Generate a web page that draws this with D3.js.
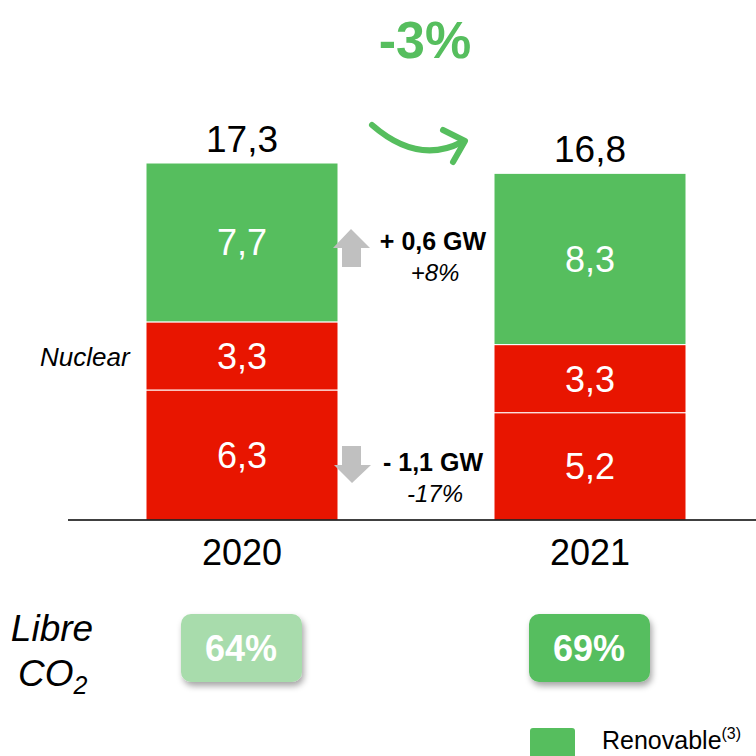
<!DOCTYPE html>
<html>
<head>
<meta charset="utf-8">
<script src="https://cdn.jsdelivr.net/npm/d3@7"></script>
<style>
  body { margin: 0; background: #fff; }
  svg { font-family: "Liberation Sans", Arial, sans-serif; }
</style>
</head>
<body>
<script>
const years = ["2020", "2021"];
const series = ["fossil", "nuclear", "renewable"];
const fossil = [6.3, 5.2];
const nuclear = [3.3, 3.3];
const renewable = [7.7, 8.3];
const totals = ["17,3", "16,8"];
const co2Free = ["64%", "69%"];
const change = "-3%";

const width = 756;
const height = 756;

const svg = d3.select("body")
    .append("svg")
    .attr("width", width)
    .attr("height", height);

const defs = svg.append("defs");
const shadow = defs.append("filter")
    .attr("id", "shadow")
    .attr("x", "-20%").attr("y", "-20%")
    .attr("width", "150%").attr("height", "160%");
shadow.append("feDropShadow")
    .attr("dx", 2).attr("dy", 4)
    .attr("stdDeviation", 3)
    .attr("flood-color", "#000")
    .attr("flood-opacity", 0.35);

const green = "#56be5e";
const red = "#e81500";
const colour = d3.scaleOrdinal()
    .domain(series)
    .range([red, red, green]);

// bars 192 px wide, 348 px apart
const x = d3.scaleBand()
    .domain(years)
    .range([146, 686])
    .paddingInner(156 / 348);

// 17.3 -> 357 px above baseline
const y = d3.scaleLinear()
    .domain([0, 17.3])
    .range([520, 163]);

const table = years.map((yr, i) => ({
    year: yr, fossil: fossil[i], nuclear: nuclear[i], renewable: renewable[i]
}));
const stacked = d3.stack().keys(series)(table);

const fmt = v => String(v).replace(".", ",");
const cx = d => x(d) + x.bandwidth() / 2;

const bars = svg.append("g");
stacked.forEach(layer => {
    const g = bars.append("g").attr("fill", colour(layer.key));
    g.selectAll("rect")
        .data(layer)
        .join("rect")
        .attr("x", d => x(d.data.year))
        .attr("width", x.bandwidth())
        .attr("y", d => y(d[1]))
        .attr("height", d => y(d[0]) - y(d[1]))
        .attr("stroke", "#fff")
        .attr("stroke-width", 1);
    g.selectAll("text")
        .data(layer)
        .join("text")
        .attr("x", d => cx(d.data.year))
        .attr("y", d => (y(d[0]) + y(d[1])) / 2 + 13)
        .attr("text-anchor", "middle")
        .attr("fill", "#fff")
        .attr("font-size", 36)
        .text(d => fmt(d.data[layer.key]));
});

// totals
svg.append("g")
    .selectAll("text")
    .data(stacked[2])
    .join("text")
    .attr("x", d => cx(d.data.year))
    .attr("y", d => y(d[1]) - 11)
    .attr("text-anchor", "middle")
    .attr("font-size", 37)
    .attr("fill", "#000")
    .text((d, i) => totals[i]);

// baseline
svg.append("line")
    .attr("x1", 68).attr("x2", width)
    .attr("y1", y(0)).attr("y2", y(0))
    .attr("stroke", "#000")
    .attr("stroke-width", 1.5);

// year labels
svg.append("g")
    .selectAll("text")
    .data(years)
    .join("text")
    .attr("x", cx)
    .attr("y", 565)
    .attr("text-anchor", "middle")
    .attr("font-size", 36)
    .text(d => d);

// Nuclear label
svg.append("text")
    .attr("x", 40).attr("y", (y(fossil[0]) + y(fossil[0] + nuclear[0])) / 2 + 10)
    .attr("font-size", 26)
    .attr("font-style", "italic")
    .text("Nuclear");

// change header and curved arrow
svg.append("text")
    .attr("x", 425).attr("y", 58)
    .attr("text-anchor", "middle")
    .attr("font-size", 52)
    .attr("font-weight", "bold")
    .attr("fill", green)
    .text(change);

svg.append("path")
    .attr("d", "M372,125 Q418,165 462,142")
    .attr("fill", "none")
    .attr("stroke", green)
    .attr("stroke-width", 6)
    .attr("stroke-linecap", "round");
svg.append("path")
    .attr("d", "M443,130 L465,141 L453,162")
    .attr("fill", "none")
    .attr("stroke", green)
    .attr("stroke-width", 6)
    .attr("stroke-linecap", "round")
    .attr("stroke-linejoin", "round");

// delta annotations
const arrowGrey = "#c0c0c0";
svg.append("path")
    .attr("d", "M333,248 L351,229 L370,248 L361,248 L361,267 L342,267 L342,248 Z")
    .attr("fill", arrowGrey);
svg.append("path")
    .attr("d", "M342,446 L361,446 L361,465 L371,465 L352,483 L334,465 L342,465 Z")
    .attr("fill", arrowGrey);

const deltas = [
    { y: 250, main: "+ 0,6 GW", sub: "+8%" },
    { y: 471, main: "- 1,1 GW", sub: "-17%" }
];
deltas.forEach(d => {
    svg.append("text")
        .attr("x", 433).attr("y", d.y)
        .attr("text-anchor", "middle")
        .attr("font-size", 25)
        .attr("font-weight", "bold")
        .text(d.main);
    svg.append("text")
        .attr("x", 435).attr("y", d.y + 31)
        .attr("text-anchor", "middle")
        .attr("font-size", 24)
        .attr("font-style", "italic")
        .text(d.sub);
});

// Libre CO2
svg.append("text")
    .attr("x", 52).attr("y", 641)
    .attr("text-anchor", "middle")
    .attr("font-size", 37)
    .attr("font-style", "italic")
    .text("Libre");
const co2 = svg.append("text")
    .attr("x", 18).attr("y", 686)
    .attr("font-size", 37)
    .attr("font-style", "italic");
co2.append("tspan").text("CO");
co2.append("tspan").attr("font-size", 25).attr("dy", 8).text("2");

// badges
const badgeFill = ["#a8dcac", green];
const badges = svg.append("g")
    .selectAll("g")
    .data(years)
    .join("g");
badges.append("rect")
    .attr("x", d => cx(d) - 61)
    .attr("y", 614)
    .attr("width", 121)
    .attr("height", 68)
    .attr("rx", 10)
    .attr("fill", (d, i) => badgeFill[i])
    .attr("filter", "url(#shadow)");
badges.append("text")
    .attr("x", d => cx(d) - 1)
    .attr("y", 661)
    .attr("text-anchor", "middle")
    .attr("font-size", 36)
    .attr("font-weight", "bold")
    .attr("fill", "#fff")
    .text((d, i) => co2Free[i]);

// legend
svg.append("rect")
    .attr("x", 530).attr("y", 728)
    .attr("width", 45).attr("height", 40)
    .attr("rx", 3)
    .attr("fill", green);
const leg = svg.append("text")
    .attr("x", 602).attr("y", 749)
    .attr("font-size", 25);
leg.append("tspan").text("Renovable");
leg.append("tspan").attr("font-size", 16).attr("dy", -10).text("(3)");
</script>
</body>
</html>
